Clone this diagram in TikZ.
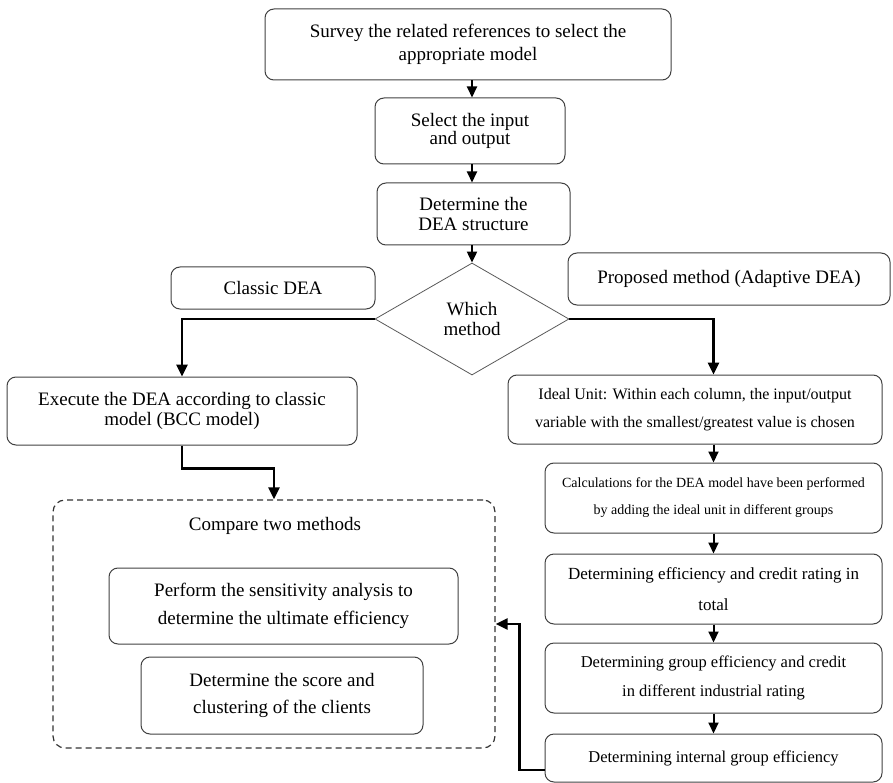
\documentclass[tikz,border=0pt]{standalone}
\usepackage{fontspec}
\setmainfont{Liberation Serif}
\usetikzlibrary{arrows.meta,shapes.geometric}
\newcommand{\boxfont}[2]{\fontsize{#1}{#2}\selectfont}
\tikzset{
	stepbox/.style={draw=black!75, line width=1pt, rounded corners=9pt, align=center, inner sep=0pt},
	askbox/.style={draw=black!65, line width=0.8pt, diamond, align=center, inner sep=0pt},
	groupbox/.style={draw=black!80, line width=1.2pt, dash pattern=on 6pt off 4pt, rounded corners=12pt, inner sep=0pt},
	flow/.style={line width=2pt, -{Triangle[length=11pt,width=10pt]}},
	bigflow/.style={line width=2.6pt, -{Triangle[length=12pt,width=11pt]}},
}

\begin{document}
\begin{tikzpicture}[x=1pt,y=-1pt]
			%%%%% START %%%%%
			\useasboundingbox (0,0) rectangle (893,783);
			
			\node[stepbox, minimum width=406pt, minimum height=71pt, font=\boxfont{19}{23}] (survey) at (468,44.5) {Survey the related references to select the\\appropriate model};
			\node[stepbox, minimum width=190pt, minimum height=66pt, font=\boxfont{19}{16}] (select) at (470,131) {Select the input\\and output};
			\node[stepbox, minimum width=193pt, minimum height=62pt, font=\boxfont{19}{20}] (struct) at (473.5,214) {Determine the\\DEA structure};
			\node[askbox, minimum width=194pt, minimum height=112pt, font=\boxfont{19}{20}] (which) at (472,319) {Which\\method};
			
			\node[stepbox, minimum width=204pt, minimum height=42pt, font=\boxfont{19}{23}] (classic) at (273,288) {Classic DEA};
			\node[stepbox, minimum width=322pt, minimum height=52pt, font=\boxfont{19}{23}] (proposed) at (729,279) {Proposed method (Adaptive DEA)};
			
			\node[stepbox, minimum width=350pt, minimum height=68pt, font=\boxfont{19}{20}] (execute) at (182,411) {Execute the DEA according to classic\\model (BCC model)};
			
			\node[stepbox, minimum width=374pt, minimum height=69pt, font=\boxfont{16}{28}] (ideal) at (695,409.5) {Ideal Unit: Within each column, the input/output\\variable with the smallest/greatest value is chosen};
			\node[stepbox, minimum width=337pt, minimum height=70pt, font=\boxfont{14}{27}] (calc) at (713.5,498) {Calculations for the DEA model have been performed\\by adding the ideal unit in different groups};
			\node[stepbox, minimum width=337pt, minimum height=70pt, font=\boxfont{17}{31}] (total) at (713.5,589) {Determining efficiency and credit rating in\\total};
			\node[stepbox, minimum width=337pt, minimum height=70pt, font=\boxfont{16.5}{29}] (group) at (713.5,678) {Determining group efficiency and credit\\in different industrial rating};
			\node[stepbox, minimum width=337pt, minimum height=48pt, font=\boxfont{16.5}{20}] (internal) at (713.5,758) {Determining internal group efficiency};
			
			\node[groupbox, minimum width=442pt, minimum height=248pt] (compare) at (274,624) {};
			\node[font=\boxfont{19}{23}, inner sep=0pt] (cmptitle) at (275,526) {Compare two methods};
			\node[stepbox, minimum width=349pt, minimum height=76pt, font=\boxfont{19}{28}] (perform) at (283.5,606) {Perform the sensitivity analysis to\\determine the ultimate efficiency};
			\node[stepbox, minimum width=282pt, minimum height=77pt, font=\boxfont{19}{27}] (score) at (282,695.5) {Determine the score and\\clustering of the clients};
			
			\draw[flow] (survey.south -| which.north) -- (select.north -| which.north);
			\draw[flow] (select.south -| which.north) -- (struct.north -| which.north);
			\draw[flow] (struct.south -| which.north) -- (which.north);
			
			\draw[bigflow] (which.west) -| (execute.north);
			\draw[bigflow] (which.east) -| (ideal.north -| calc.north);
			
			\draw[flow] (ideal.south -| calc.north) -- (calc.north);
			\draw[flow] (calc.south) -- (total.north);
			\draw[flow] (total.south) -- (group.north);
			\draw[flow] (group.south) -- (internal.north);
			
			\draw[bigflow] (execute.south) -- ++(0,23) -| (compare.north);
			\draw[bigflow] ([yshift=-12pt]internal.west) -- ++(-25,0) |- (compare.east);
			
			%%%%% END %%%%%
\end{tikzpicture}
\end{document}
